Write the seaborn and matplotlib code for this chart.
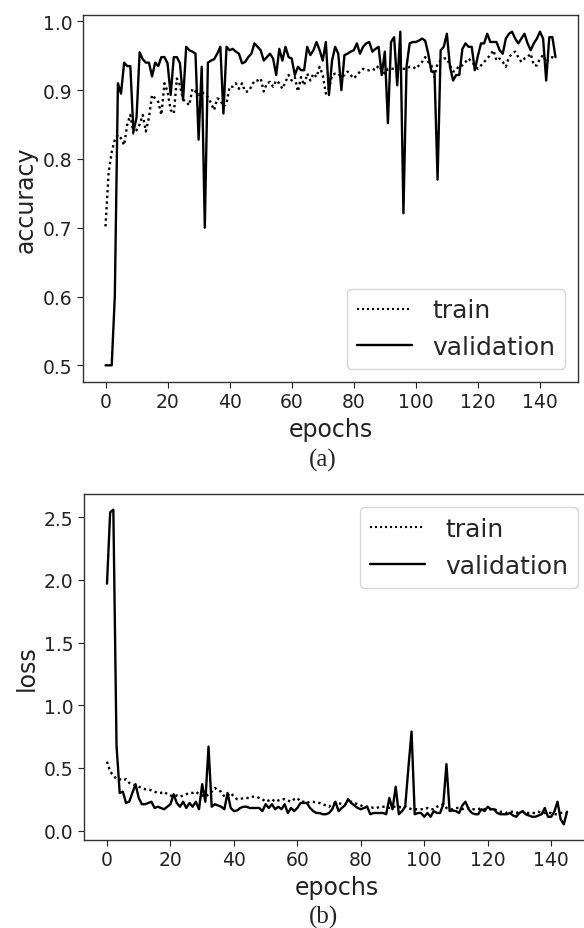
import numpy as np
import pandas as pd
import seaborn as sns
import matplotlib
matplotlib.use("Agg")
import matplotlib.pyplot as plt
from matplotlib.lines import Line2D

# values (146 epochs, 0..145)
train_acc = [
    0.702, 0.78, 0.81, 0.828, 0.835, 0.83, 0.82, 0.85, 0.864, 0.837,
    0.842, 0.85, 0.864, 0.84, 0.86, 0.893, 0.888, 0.883, 0.864, 0.91,
    0.898, 0.871, 0.866, 0.917, 0.907, 0.886, 0.883, 0.878, 0.902, 0.898,
    0.893, 0.898, 0.893, 0.89, 0.881, 0.871, 0.888, 0.886, 0.876, 0.881,
    0.905, 0.905, 0.91, 0.902, 0.91, 0.898, 0.898, 0.905, 0.914, 0.914,
    0.917, 0.898, 0.91, 0.912, 0.905, 0.914, 0.91, 0.902, 0.912, 0.922,
    0.914, 0.919, 0.898, 0.919, 0.907, 0.924, 0.914, 0.924, 0.919, 0.934,
    0.922, 0.895, 0.902, 0.922, 0.924, 0.924, 0.919, 0.922, 0.927, 0.922,
    0.917, 0.922, 0.927, 0.931, 0.929, 0.929, 0.931, 0.929, 0.936, 0.929,
    0.924, 0.931, 0.931, 0.931, 0.931, 0.931, 0.931, 0.931, 0.934, 0.934,
    0.931, 0.936, 0.941, 0.948, 0.941, 0.936, 0.919, 0.939, 0.943, 0.946,
    0.946, 0.936, 0.927, 0.929, 0.936, 0.936, 0.941, 0.946, 0.941, 0.936,
    0.931, 0.936, 0.941, 0.946, 0.951, 0.958, 0.943, 0.946, 0.941, 0.934,
    0.948, 0.953, 0.956, 0.948, 0.941, 0.946, 0.948, 0.953, 0.936, 0.936,
    0.946, 0.951, 0.941, 0.946, 0.948, 0.946,
]
val_acc = [
    0.5, 0.5, 0.5, 0.6, 0.91, 0.895, 0.94, 0.935, 0.935, 0.84,
    0.86, 0.955, 0.945, 0.94, 0.94, 0.92, 0.94, 0.935, 0.948, 0.948,
    0.939, 0.893, 0.948, 0.948, 0.939, 0.886, 0.963, 0.958, 0.956, 0.953,
    0.828, 0.934, 0.70, 0.94, 0.943, 0.945, 0.953, 0.963, 0.866, 0.963,
    0.958, 0.96, 0.956, 0.953, 0.939, 0.941, 0.948, 0.953, 0.968, 0.963,
    0.958, 0.943, 0.948, 0.953, 0.946, 0.922, 0.96, 0.943, 0.963, 0.948,
    0.946, 0.922, 0.934, 0.929, 0.929, 0.963, 0.951, 0.958, 0.97, 0.958,
    0.943, 0.97, 0.893, 0.943, 0.963, 0.953, 0.9, 0.951, 0.953, 0.956,
    0.958, 0.968, 0.953, 0.963, 0.968, 0.97, 0.956, 0.96, 0.963, 0.922,
    0.956, 0.852, 0.97, 0.977, 0.907, 0.985, 0.721, 0.934, 0.968, 0.97,
    0.97, 0.972, 0.975, 0.972, 0.953, 0.927, 0.927, 0.77, 0.958, 0.963,
    0.982, 0.934, 0.914, 0.922, 0.922, 0.96, 0.968, 0.963, 0.963, 0.929,
    0.95, 0.968, 0.968, 0.982, 0.97, 0.97, 0.97, 0.958, 0.953, 0.975,
    0.982, 0.985, 0.975, 0.968, 0.975, 0.982, 0.968, 0.958, 0.968, 0.975,
    0.985, 0.975, 0.914, 0.977, 0.977, 0.948,
]
train_loss = [
    0.55, 0.47, 0.44, 0.41, 0.41, 0.40, 0.41, 0.38, 0.37, 0.36,
    0.35, 0.34, 0.33, 0.33, 0.32, 0.31, 0.30, 0.30, 0.31, 0.29,
    0.28, 0.27, 0.28, 0.27, 0.28, 0.29, 0.30, 0.30, 0.31, 0.29,
    0.28, 0.27, 0.29, 0.31, 0.34, 0.32, 0.31, 0.27, 0.28, 0.30,
    0.27, 0.25, 0.25, 0.26, 0.26, 0.26, 0.27, 0.27, 0.26, 0.25,
    0.23, 0.24, 0.25, 0.23, 0.24, 0.25, 0.25, 0.24, 0.23, 0.25,
    0.26, 0.23, 0.23, 0.22, 0.23, 0.23, 0.22, 0.22, 0.21, 0.20,
    0.19, 0.21, 0.22, 0.22, 0.21, 0.21, 0.22, 0.23, 0.22, 0.21,
    0.20, 0.19, 0.19, 0.19, 0.18, 0.18, 0.19, 0.19, 0.19, 0.18,
    0.19, 0.19, 0.19, 0.18, 0.19, 0.18, 0.17, 0.17, 0.17, 0.17,
    0.17, 0.18, 0.17, 0.17, 0.19, 0.20, 0.21, 0.18, 0.17, 0.17,
    0.18, 0.18, 0.17, 0.18, 0.18, 0.17, 0.17, 0.17, 0.18, 0.17,
    0.17, 0.17, 0.17, 0.16, 0.15, 0.15, 0.14, 0.15, 0.15, 0.14,
    0.15, 0.15, 0.14, 0.14, 0.14, 0.14, 0.15, 0.14, 0.14, 0.14,
    0.14, 0.13, 0.13, 0.14, 0.14, 0.14,
]
val_loss = [
    1.97, 2.54, 2.56, 0.68, 0.30, 0.31, 0.22, 0.23, 0.30, 0.37,
    0.26, 0.21, 0.21, 0.22, 0.23, 0.18, 0.19, 0.18, 0.17, 0.19,
    0.21, 0.29, 0.22, 0.19, 0.23, 0.18, 0.22, 0.19, 0.23, 0.17,
    0.37, 0.23, 0.67, 0.19, 0.21, 0.20, 0.19, 0.17, 0.30, 0.18,
    0.155, 0.16, 0.18, 0.19, 0.19, 0.18, 0.18, 0.18, 0.18, 0.155,
    0.21, 0.18, 0.21, 0.17, 0.19, 0.17, 0.21, 0.14, 0.18, 0.155,
    0.18, 0.22, 0.22, 0.22, 0.18, 0.155, 0.14, 0.14, 0.13, 0.13,
    0.14, 0.17, 0.23, 0.155, 0.18, 0.20, 0.25, 0.22, 0.20, 0.18,
    0.17, 0.18, 0.19, 0.13, 0.14, 0.14, 0.14, 0.14, 0.13, 0.26,
    0.17, 0.35, 0.13, 0.155, 0.19, 0.50, 0.79, 0.13, 0.14, 0.14,
    0.11, 0.14, 0.11, 0.155, 0.14, 0.14, 0.21, 0.53, 0.155, 0.16,
    0.155, 0.14, 0.20, 0.23, 0.17, 0.14, 0.13, 0.13, 0.17, 0.155,
    0.19, 0.17, 0.17, 0.14, 0.13, 0.13, 0.13, 0.14, 0.12, 0.11,
    0.14, 0.155, 0.13, 0.12, 0.11, 0.11, 0.12, 0.13, 0.18, 0.11,
    0.11, 0.15, 0.23, 0.09, 0.05, 0.15,
]
epochs = list(range(len(val_acc)))
series = ["train", "validation"]

sns.set_style("ticks")
plt.rcParams["font.family"] = ["DejaVu Sans"]

fig = plt.figure(figsize=(5.84, 9.29), dpi=100)
ax1 = fig.add_axes([83 / 584, 1 - 383 / 929, 495 / 584, 367 / 929])
ax2 = fig.add_axes([84 / 584, 1 - 841 / 929, 506 / 584, 346 / 929])

acc_df = pd.DataFrame({"epoch": epochs * 2,
                       "value": train_acc + val_acc,
                       "set": np.repeat(series, len(epochs))})
loss_df = pd.DataFrame({"epoch": epochs * 2,
                        "value": train_loss + val_loss,
                        "set": np.repeat(series, len(epochs))})

for ax, df, ylab in [(ax1, acc_df, "accuracy"), (ax2, loss_df, "loss")]:
    sns.lineplot(data=df, x="epoch", y="value", style="set",
                 dashes={"train": (1, 1.4), "validation": ""},
                 color="black", linewidth=1.7, ax=ax, legend=False)
    ax.set_xlabel("epochs", fontsize=17, color="#222222")
    ax.set_ylabel(ylab, fontsize=17, color="#222222")
    ax.tick_params(labelsize=13.5, colors="#222222", length=4)
    ax.set_xticks(range(0, 141, 20))
    for s in ax.spines.values():
        s.set_color("#333333")
        s.set_linewidth(1.0)
    ax.margins(x=0.05)

ax1.set_yticks([0.5, 0.6, 0.7, 0.8, 0.9, 1.0])
ax2.set_yticks([0.0, 0.5, 1.0, 1.5, 2.0, 2.5])

handles = [Line2D([], [], color="black", lw=1.5, linestyle=(0, (1, 1.4))),
           Line2D([], [], color="black", lw=1.7)]
ax1.legend(handles, series, fontsize=18, loc="lower right",
           bbox_to_anchor=(565 / 584, 1 - 370 / 929),
           bbox_transform=fig.transFigure, borderaxespad=0,
           handlelength=2.2)
ax2.legend(handles, series, fontsize=18, loc="upper right",
           bbox_to_anchor=(578 / 584, 1 - 508 / 929),
           bbox_transform=fig.transFigure, borderaxespad=0,
           handlelength=2.2)

fig.text(323 / 584, 1 - 460 / 929, "(a)", ha="center", va="center",
         fontsize=18, family=["Liberation Serif"])
fig.text(324 / 584, 1 - 917 / 929, "(b)", ha="center", va="center",
         fontsize=18, family=["Liberation Serif"])

fig.savefig("out.png", dpi=100)
